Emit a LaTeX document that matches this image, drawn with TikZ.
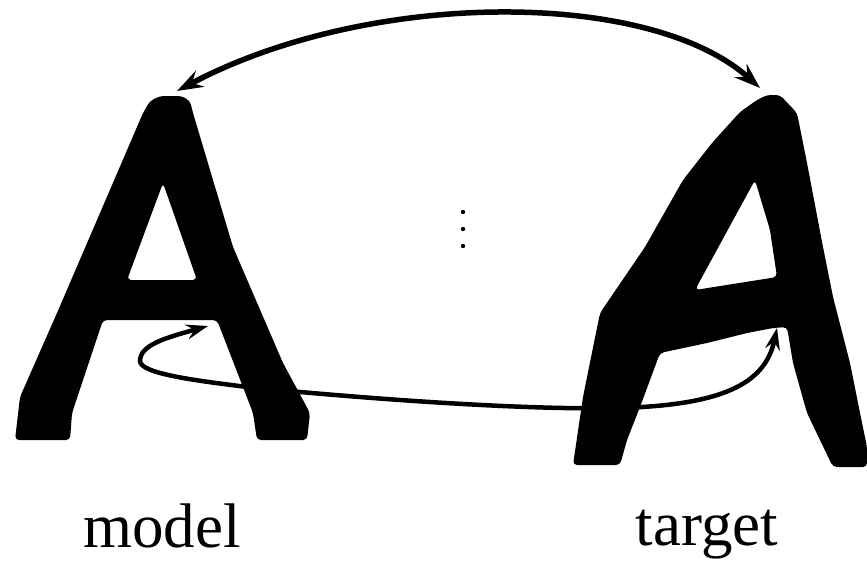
\documentclass[tikz,border=0pt]{standalone}
\usepackage{fontspec}
\setmainfont{Liberation Serif}
\usetikzlibrary{arrows.meta}
\tikzset{
  letterA/.style={fill=black, even odd rule, rounded corners=4pt},
  bigarrow/.style={line width=5.5pt, {Stealth[length=26pt,width=18pt,inset=9pt]}-{Stealth[length=26pt,width=18pt,inset=9pt]}},
  smallarrow/.style={line width=4.5pt, {Stealth[length=22pt,width=15pt,inset=8pt]}-{Stealth[length=22pt,width=15pt,inset=8pt]}},
  caption/.style={anchor=base, inner sep=0pt, font=\fontsize{63}{70}\selectfont},
  vdot/.style={fill=black}
}
\begin{document}
\begin{tikzpicture}[x=1pt,y=-1pt]
\useasboundingbox (0,0) rectangle (867,560);
% left A (model)
\fill[letterA]
 (15,440) -- (20,397) -- (57,313) -- (100,213) -- (143,113) -- (150,101) -- (160,96) -- (182,96) -- (190,101) -- (193,113)
 -- (233,247) -- (283,363) -- (310,413) -- (307,440) -- (257,440) -- (253,413) -- (217,320) -- (103,320) -- (72,413) -- (70,440) -- cycle
 (163,183) -- (197,280) -- (127,280) -- cycle;
% right A (target)
\fill[letterA]
 (573,465) -- (583,397) -- (600,313) -- (645,247) -- (683,180) -- (712,143) -- (740,112) -- (757,100) -- (767,95) -- (780,95) -- (797,113)
 -- (807,163) -- (823,247) -- (833,297) -- (850,363) -- (860,413) -- (867,447) -- (867,467) -- (833,467) -- (807,413) -- (793,363)
 -- (787,327) -- (773,328) -- (747,333) -- (707,343) -- (660,353) -- (650,380) -- (640,407) -- (627,440) -- (620,465) -- cycle
 (755,180) -- (770,230) -- (777,277) -- (695,290) -- cycle;
% arrow end points
\coordinate (tl) at (177,91);
\coordinate (tr) at (760,88);
\coordinate (bl) at (208,326);
\coordinate (br) at (777,328);
\draw[bigarrow] (tl) .. controls (369,-11) and (650,-11) .. (tr);
\draw[smallarrow] (bl) .. controls (165,338) and (140,345) .. (140,361)
  .. controls (140,374) and (200,381) .. (247,387)
  .. controls (400,402) and (540,410) .. (620,408)
  .. controls (720,405) and (765,385) .. (br);
% vertical dots
\fill[vdot] (463,212) circle (2.2pt);
\fill[vdot] (463,229) circle (2.2pt);
\fill[vdot] (463,246) circle (2.2pt);
% captions
\node[caption] (model) at (162,547) {model};
\node[caption] (target) at (707,545) {target};
\end{tikzpicture}
\end{document}
